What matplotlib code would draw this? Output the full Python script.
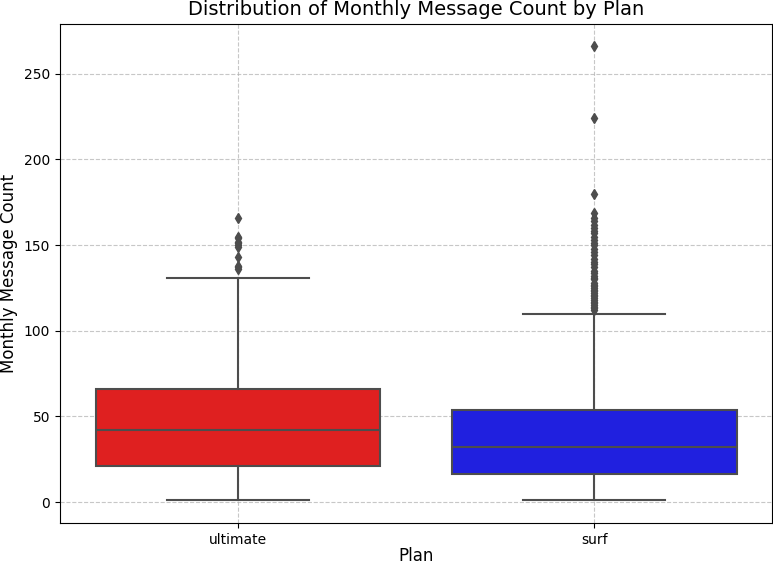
import matplotlib
matplotlib.use("Agg")
import matplotlib.pyplot as plt

# values
plans = ["ultimate", "surf"]
medians = [42, 32]
q1s = [21, 16.5]
q3s = [66, 54]
whisker_low = [1, 1]
whisker_high = [131, 110]
ultimate_outliers = [166, 155, 154, 152, 151, 150, 149, 143, 138, 137, 136]
surf_outliers = [266, 224, 180, 169, 166, 164, 162, 160, 158, 157, 155, 153,
                 151, 150, 148, 146, 144, 142, 140, 139, 137, 135, 134, 132,
                 131, 130, 128, 127, 126, 125, 124, 123, 122, 121, 120, 119,
                 118, 117, 116, 115, 114, 113, 112]
box_colors = ["#df2020", "#2020df"]

stats = []
fliers = [ultimate_outliers, surf_outliers]
for i, name in enumerate(plans):
    stats.append({
        "label": name,
        "med": medians[i],
        "q1": q1s[i],
        "q3": q3s[i],
        "whislo": whisker_low[i],
        "whishi": whisker_high[i],
        "fliers": fliers[i],
    })

fig = plt.figure(figsize=(7.73, 5.66), dpi=100)
ax = fig.add_axes([0.0776, 0.076, 0.9214, 0.882])

line_gray = "#4d4d4d"
bp = ax.bxp(stats, positions=[0, 1], widths=0.8, patch_artist=True,
            showfliers=True,
            boxprops=dict(edgecolor=line_gray, linewidth=1.5),
            medianprops=dict(color=line_gray, linewidth=1.5),
            whiskerprops=dict(color=line_gray, linewidth=1.5),
            capprops=dict(color=line_gray, linewidth=1.5),
            capwidths=0.4,
            flierprops=dict(marker="d", markerfacecolor=line_gray,
                            markeredgecolor=line_gray, markersize=5))
for patch, c in zip(bp["boxes"], box_colors):
    patch.set_facecolor(c)

ax.set_xlim(-0.5, 1.5)
ax.set_ylim(-12.25, 279.25)
ax.grid(True, linestyle="--", alpha=0.7)
ax.set_title("Distribution of Monthly Message Count by Plan", fontsize=14)
ax.set_xlabel("Plan", fontsize=12, labelpad=0.5)
ax.set_ylabel("Monthly Message Count", fontsize=12)

fig.savefig("out.png", dpi=100)
